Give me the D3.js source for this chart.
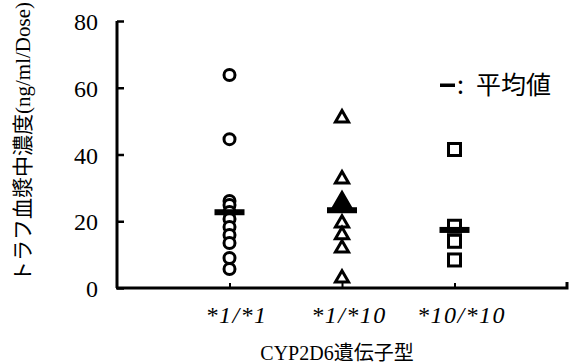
<!DOCTYPE html>
<html>
<head>
<meta charset="utf-8">
<script src="https://cdn.jsdelivr.net/npm/d3@7"></script>
<style>
  body { margin: 0; background: #fff; }
  svg text { fill: #000; }
</style>
</head>
<body>
<div id="chart"></div>
<script>
// genotype groups
var genotypes = ["*1/*1", "*1/*10", "*10/*10"];
var yTicks = [0, 20, 40, 60, 80];

// individual trough values (ng/ml/Dose)
var wt_wt = [63.8, 44.6, 26.1, 24.9, 22.8, 20.7, 18.3, 15.9, 13.5, 9.0, 5.7];
var wt_m10 = [50.9, 32.6, 19.4, 15.9, 11.9, 2.9];
var m10_m10 = [41.5, 18.5, 14.0, 8.4];
// overlapping points in *1/*10 drawn as one solid triangle
var wt_m10_overlap = [25.6];

// group means
var means = [22.7, 23.3, 17.4];

var width = 569, height = 364;
var svg = d3.select("#chart").append("svg")
  .attr("width", width)
  .attr("height", height);

var x = d3.scalePoint()
  .domain(genotypes)
  .range([117, 567])
  .padding(1);

var y = d3.scaleLinear()
  .domain([0, 80])
  .range([288, 21]);

var serif = "Liberation Serif, serif";
var jp = "Liberation Serif, Noto Sans CJK JP, serif";

// y axis, ticks pointing in
var yAxis = svg.append("g")
  .attr("transform", "translate(117,0)")
  .call(d3.axisRight(y).tickValues(yTicks).tickSize(7).tickFormat(""));
yAxis.attr("font-family", null).attr("font-size", null);
yAxis.select(".domain").attr("stroke-width", 3).attr("d", "M0," + y(80) + "V" + y(0));
yAxis.selectAll(".tick line").attr("stroke-width", 2.5);

yAxis.selectAll(".tick").append("text")
  .attr("x", -19)
  .attr("dy", "0.36em")
  .attr("text-anchor", "end")
  .attr("font-family", serif)
  .attr("font-size", 24)
  .attr("fill", "#000")
  .text(function(d) { return d; });

// x axis, ticks pointing up
var xAxis = svg.append("g")
  .attr("transform", "translate(0,288)")
  .call(d3.axisTop(x).tickSize(5).tickFormat(""));
xAxis.select(".domain").attr("stroke-width", 3).attr("d", "M116,0H567V-6");
xAxis.selectAll(".tick line").attr("stroke-width", 2);

svg.append("g").selectAll("text")
  .data(genotypes)
  .enter().append("text")
    .attr("x", function(d) { return x(d) + 7; })
    .attr("y", 323)
    .attr("text-anchor", "middle")
    .attr("font-family", serif)
    .attr("font-style", "italic")
    .attr("font-size", 24)
    .attr("letter-spacing", 1.5)
    .text(function(d) { return d; });

// axis titles
svg.append("text")
  .attr("x", 337)
  .attr("y", 360)
  .attr("text-anchor", "middle")
  .attr("font-family", jp)
  .attr("font-size", 20)
  .text("CYP2D6遺伝子型");

svg.append("text")
  .attr("transform", "translate(30,142) rotate(-90)")
  .attr("text-anchor", "middle")
  .attr("font-family", jp)
  .attr("font-size", 21)
  .text("トラフ血漿中濃度(ng/ml/Dose)");

// markers
var mk = svg.append("g")
  .attr("fill", "#fff")
  .attr("stroke", "#000")
  .attr("stroke-width", 3);

mk.selectAll("circle")
  .data(wt_wt)
  .enter().append("circle")
    .attr("cx", x(genotypes[0]))
    .attr("cy", function(d) { return y(d); })
    .attr("r", 5.5);

var tri = d3.symbol().type(d3.symbolTriangle).size(75);
mk.selectAll("path.tri")
  .data(wt_m10)
  .enter().append("path")
    .attr("class", "tri")
    .attr("d", tri)
    .attr("transform", function(d) { return "translate(" + x(genotypes[1]) + "," + y(d) + ")"; });

mk.selectAll("path.trifill")
  .data(wt_m10_overlap)
  .enter().append("path")
    .attr("class", "trifill")
    .attr("d", d3.symbol().type(d3.symbolTriangle).size(130))
    .attr("fill", "#000")
    .attr("transform", function(d) { return "translate(" + x(genotypes[1]) + "," + y(d) + ")"; });

mk.selectAll("rect")
  .data(m10_m10)
  .enter().append("rect")
    .attr("x", x(genotypes[2]) - 6)
    .attr("y", function(d) { return y(d) - 6; })
    .attr("width", 12)
    .attr("height", 12);

// mean bars
svg.append("g").selectAll("rect")
  .data(means)
  .enter().append("rect")
    .attr("x", function(d, i) { return x(genotypes[i]) - 15; })
    .attr("y", function(d) { return y(d) - 3; })
    .attr("width", 30)
    .attr("height", 6)
    .attr("fill", "#000");

// legend
var lg = svg.append("g").attr("transform", "translate(440,85)");
lg.append("rect")
  .attr("x", 0).attr("y", -1.5)
  .attr("width", 15).attr("height", 3.5)
  .attr("fill", "#000");
var lt = lg.append("text")
  .attr("y", 9)
  .attr("font-family", "Noto Sans CJK JP, sans-serif")
  .attr("font-size", 25);
lt.append("tspan").attr("x", 17).text(":");
lt.append("tspan").attr("x", 36).text("平均値");
</script>
</body>
</html>
